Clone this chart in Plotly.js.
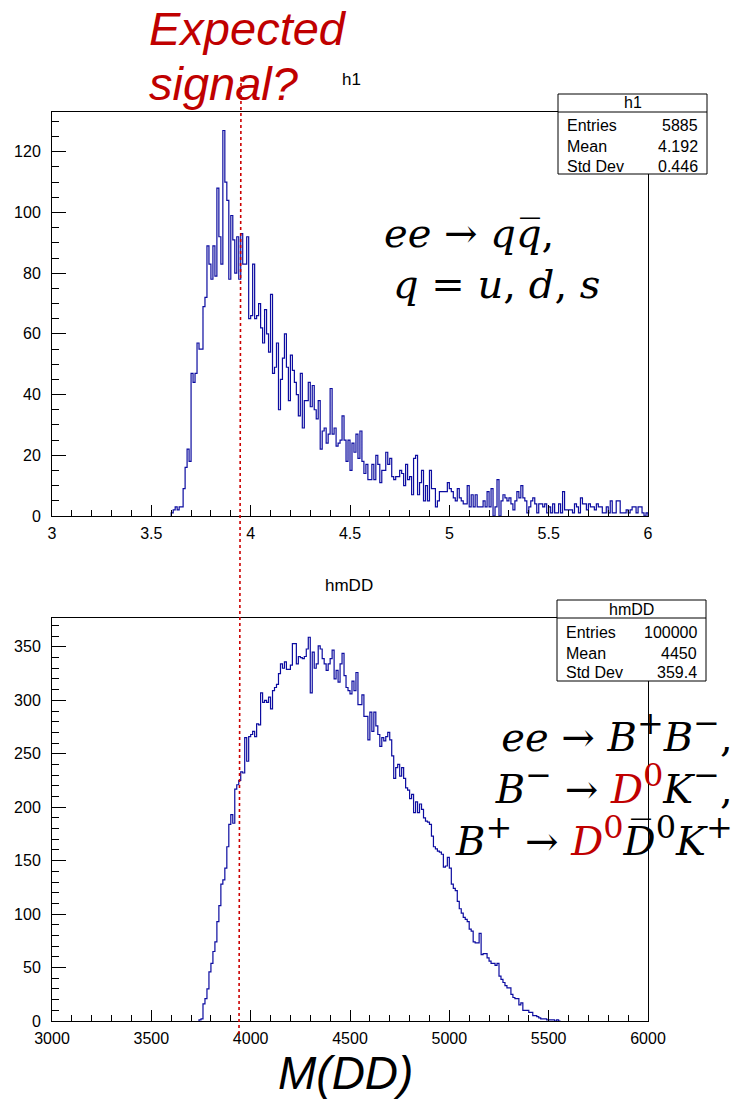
<!DOCTYPE html>
<html>
<head>
<meta charset="utf-8">
<script src="https://cdn.plot.ly/plotly-3.0.1.min.js"></script>
<style>html,body{margin:0;padding:0;background:#fff;}#chart{width:738px;height:1099px;}</style>
</head>
<body>
<div id="chart"></div>
<script>
// ---------------- data ----------------
const h1Low = 3.60;
const h1BinWidth = 0.01;
const h1Counts = [
  1,2,3,2,3,3,9,16,22,18,
  47,44,47,57,55,55,69,72,89,83,
  78,89,79,108,92,83,127,110,104,78,
  99,91,80,92,78,93,83,83,92,65,
  66,83,65,66,70,62,57,68,60,54,
  73,47,49,57,35,45,52,60,49,38,
  53,48,44,40,33,47,29,38,38,44,
  36,43,35,32,38,22,28,29,24,27,
  42,27,29,23,24,25,33,25,18,25,
  15,24,21,27,19,28,18,14,17,12,
  12,17,12,20,17,11,15,15,21,17,
  19,13,12,13,13,15,14,10,17,12,
  13,7,19,20,7,11,15,5,10,5,
  15,9,9,3,5,8,8,8,8,11,
  9,8,6,5,9,6,5,4,4,10,
  3,7,3,7,3,3,3,5,3,8,
  3,9,0,3,12,0,5,7,6,5,
  6,4,2,5,8,6,10,6,5,1,
  3,5,6,4,1,4,4,3,4,1,
  3,1,4,1,1,4,1,8,2,2,
  2,2,1,4,3,1,6,4,4,2,
  4,3,3,2,4,3,3,1,1,3,
  1,5,1,1,5,5,1,1,1,2,
  1,2,3,3,1,3,3,1,0,1
];

const hmddLow = 3740;
const hmddBinWidth = 10;
const hmddCounts = [
  1,2,16,21,30,46,54,65,74,93,
  108,128,132,143,163,184,193,185,217,221,
  225,233,232,265,243,266,268,271,266,278,
  277,307,298,300,298,303,292,309,312,315,
  325,334,330,336,329,329,333,353,353,334,
  341,340,339,341,348,359,307,345,330,334,
  351,348,339,334,328,334,339,347,320,328,
  317,334,344,323,312,309,306,318,309,326,
  296,296,305,285,285,263,289,271,289,276,
  268,257,265,262,266,270,263,248,227,237,
  240,229,237,227,218,216,208,212,195,205,
  195,203,198,190,187,186,184,173,163,161,
  159,158,156,144,145,153,143,128,124,122,
  112,105,101,97,95,93,86,84,74,73,
  73,82,62,63,63,59,56,54,54,52,
  54,42,39,36,33,31,31,25,22,21,
  21,15,17,10,10,10,8,8,5,5,
  4,3,2,2,2,1,1,1,1,0,
  1,0
];

const statLabels = ['Entries', 'Mean', 'Std Dev'];
const h1StatValues = ['5885', '4.192', '0.446'];
const hmddStatValues = ['100000', '4450', '359.4'];
const histNames = ['h1', 'hmDD'];

// ---------------- helpers ----------------
const W = 738, H = 1099;
const px = x => x / W;
const py = y => 1 - y / H;

function stepXY(low, bw, counts) {
  const xs = [low], ys = [0];
  for (let i = 0; i < counts.length; i++) { xs.push(low + i * bw); ys.push(counts[i]); }
  xs.push(low + counts.length * bw); ys.push(0);
  return {xs, ys};
}

const s1 = stepXY(h1Low, h1BinWidth, h1Counts);
const s2 = stepXY(hmddLow, hmddBinWidth, hmddCounts);

const lineColor = '#0c0ca0';
const traces = [
  {x: s1.xs, y: s1.ys, xaxis: 'x', yaxis: 'y', type: 'scatter', mode: 'lines',
   line: {shape: 'hv', color: lineColor, width: 1.2}, hoverinfo: 'skip'},
  {x: s2.xs, y: s2.ys, xaxis: 'x2', yaxis: 'y2', type: 'scatter', mode: 'lines',
   line: {shape: 'hv', color: lineColor, width: 1.2}, hoverinfo: 'skip'}
];

const FONT = 'Liberation Sans, Arial, Helvetica, sans-serif';
const MATH = 'DejaVu Serif, serif';
const tickFont = {family: FONT, size: 16, color: '#000'};

function xAxis(range, dtick, minor, anchor) {
  return {
    domain: [px(52), px(648)], range: range, anchor: anchor,
    showline: true, mirror: true, linecolor: '#000', linewidth: 1,
    ticks: 'inside', ticklen: 11, tickcolor: '#000', tickwidth: 1,
    tick0: range[0], dtick: dtick,
    minor: {ticks: 'inside', dtick: minor, tick0: range[0], ticklen: 6, tickcolor: '#000', showgrid: false},
    showgrid: false, zeroline: false, tickfont: tickFont, ticklabelstandoff: 3, fixedrange: true
  };
}
function yAxis(domain, range, dtick, minor, anchor) {
  return {
    domain: domain, range: range, anchor: anchor,
    showline: true, mirror: true, linecolor: '#000', linewidth: 1,
    ticks: 'inside', ticklen: 14, tickcolor: '#000', tickwidth: 1,
    tick0: 0, dtick: dtick,
    minor: {ticks: 'inside', dtick: minor, tick0: 0, ticklen: 7, tickcolor: '#000', showgrid: false},
    showgrid: false, zeroline: false, tickfont: tickFont, ticklabelstandoff: 7, fixedrange: true
  };
}

const shapes = [];
const annotations = [];
const boxFont = {family: FONT, size: 16, color: '#000'};

function statBox(x0, x1, yTop, ySep, yBot, title, values, rowYs) {
  shapes.push({type: 'rect', xref: 'paper', yref: 'paper', x0: px(x0), x1: px(x1), y0: py(yBot), y1: py(yTop),
    line: {color: '#000', width: 1}, fillcolor: '#fff', layer: 'above'});
  shapes.push({type: 'line', xref: 'paper', yref: 'paper', x0: px(x0), x1: px(x1), y0: py(ySep), y1: py(ySep),
    line: {color: '#000', width: 1}, layer: 'above'});
  annotations.push({xref: 'paper', yref: 'paper', x: px((x0 + x1) / 2), y: py((yTop + ySep) / 2),
    text: title, showarrow: false, xanchor: 'center', yanchor: 'middle', font: boxFont});
  for (let i = 0; i < statLabels.length; i++) {
    annotations.push({xref: 'paper', yref: 'paper', x: px(x0 + 7), y: py(rowYs[i]), text: statLabels[i],
      showarrow: false, xanchor: 'left', yanchor: 'middle', font: boxFont});
    annotations.push({xref: 'paper', yref: 'paper', x: px(x1 - 7), y: py(rowYs[i]), text: values[i],
      showarrow: false, xanchor: 'right', yanchor: 'middle', font: boxFont});
  }
}

statBox(558, 707, 94, 112, 174, histNames[0], h1StatValues, [125, 146, 166]);
statBox(557, 706, 600, 618, 681, histNames[1], hmddStatValues, [632, 653, 672]);

// histogram titles
annotations.push({xref: 'paper', yref: 'paper', x: px(351), y: py(80), text: histNames[0], showarrow: false,
  xanchor: 'center', yanchor: 'middle', font: {family: FONT, size: 17, color: '#000'}});
annotations.push({xref: 'paper', yref: 'paper', x: px(349), y: py(585), text: histNames[1], showarrow: false,
  xanchor: 'center', yanchor: 'middle', font: {family: FONT, size: 17, color: '#000'}});

// red dotted line
shapes.push({type: 'line', xref: 'paper', yref: 'paper', x0: px(241), y0: py(77), x1: px(239), y1: py(1038),
  line: {color: '#cc0000', width: 1.6, dash: 'dot'}, layer: 'above'});

const red = '#c00000';
// Expected signal?
annotations.push({xref: 'paper', yref: 'paper', x: px(147), y: py(29), text: '<i>Expected</i>', showarrow: false,
  xanchor: 'left', yanchor: 'middle', font: {family: FONT, size: 47, color: red}});
annotations.push({xref: 'paper', yref: 'paper', x: px(147), y: py(84), text: '<i>signal?</i>', showarrow: false,
  xanchor: 'left', yanchor: 'middle', font: {family: FONT, size: 47, color: red}});

// x title
annotations.push({xref: 'paper', yref: 'paper', x: px(345), y: py(1073), text: '<i>M(DD)</i>', showarrow: false,
  xanchor: 'center', yanchor: 'middle', font: {family: FONT, size: 46, color: '#000'}});

// physics text
const mathSize = 40;
const sup = s => "<sup><span style='font-size:32px'>" + s + "</span></sup>";
annotations.push({xref: 'paper', yref: 'paper', x: px(382), y: py(233), showarrow: false, xanchor: 'left', yanchor: 'middle',
  text: '<i>ee</i> → <i>q</i><i>q\u0305</i>,', font: {family: MATH, size: mathSize, color: '#000'}});
annotations.push({xref: 'paper', yref: 'paper', x: px(391), y: py(284), showarrow: false, xanchor: 'left', yanchor: 'middle',
  text: '<i>q</i> = <i>u</i>, <i>d</i>, <i>s</i>', font: {family: MATH, size: mathSize, color: '#000'}});

const D0 = "<span style='color:" + red + "'><i>D</i>" + sup('0') + "</span>";
const decayLines = [
  '<i>ee</i> → <i>B</i>' + sup('+') + '<i>B</i>' + sup('−') + ',',
  '<i>B</i>' + sup('−') + ' → ' + D0 + '<i>K</i>' + sup('−') + ',',
  '<i>B</i>' + sup('+') + ' → ' + D0 + '<i>D\u0305</i>' + sup('0') + '<i>K</i>' + sup('+')
];
annotations.push({xref: 'paper', yref: 'paper', x: px(735), y: py(784), showarrow: false, xanchor: 'right', yanchor: 'middle',
  align: 'right', text: decayLines.join('<br>'), font: {family: MATH, size: mathSize, color: '#000'}});

const layout = {
  width: W, height: H,
  margin: {l: 0, r: 0, t: 0, b: 0, pad: 0},
  paper_bgcolor: '#fff', plot_bgcolor: '#fff',
  showlegend: false,
  xaxis: xAxis([3, 6], 0.5, 0.1, 'y'),
  yaxis: yAxis([py(516), py(112)], [0, 133.1], 20, 5, 'x'),
  xaxis2: xAxis([3000, 6000], 500, 100, 'y2'),
  yaxis2: yAxis([py(1021), py(618)], [0, 377], 50, 10, 'x2'),
  shapes: shapes,
  annotations: annotations
};

Plotly.newPlot('chart', traces, layout, {staticPlot: true, displayModeBar: false});
</script>
</body>
</html>
